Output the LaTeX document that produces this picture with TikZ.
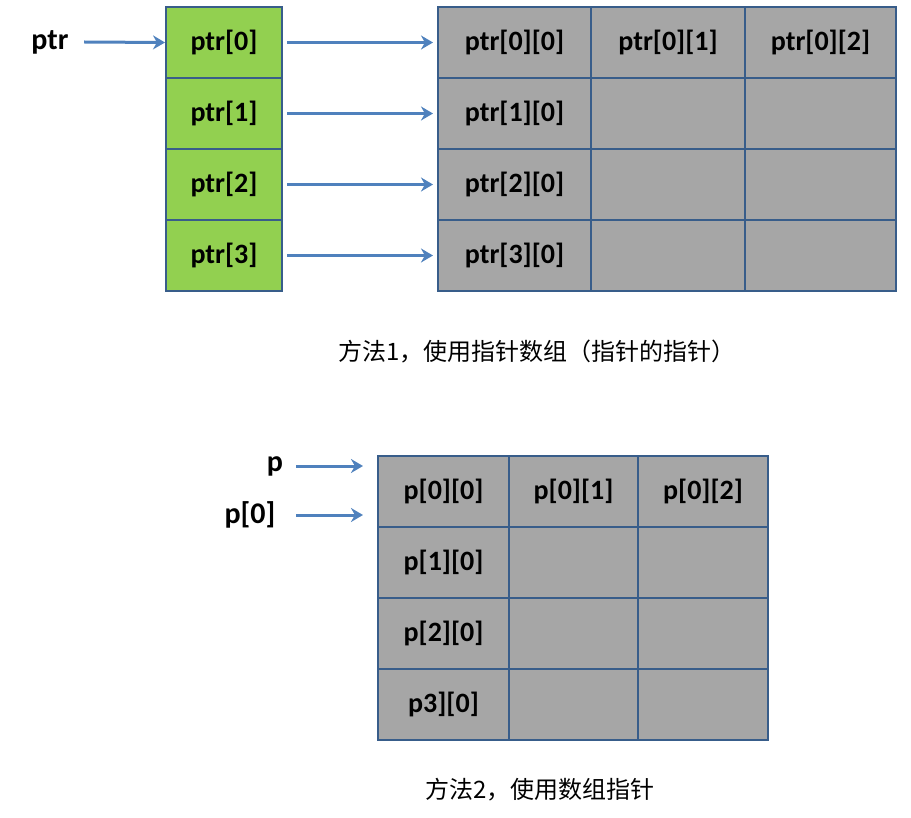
\documentclass[tikz,border=0pt]{standalone}
\usepackage{fontspec}
\setmainfont{Carlito}
\newfontfamily\cjk{Noto Sans CJK SC}
\usetikzlibrary{arrows.meta}
\definecolor{gr}{HTML}{92D050}
\definecolor{gy}{HTML}{A6A6A6}
\definecolor{bd}{HTML}{385D8A}
\definecolor{ar}{HTML}{4F81BD}
\begin{document}
\begin{tikzpicture}[x=1pt,y=-1pt,
 cell/.style={draw=bd,line width=2pt,minimum width=#1,minimum height=71pt,inner sep=0pt,anchor=north west,font=\fontsize{28}{30}\selectfont\bfseries},
 lab/.style={font=\fontsize{30}{32}\selectfont\bfseries},
 arr/.style={draw=ar,line width=3pt,-{Stealth[length=12pt,width=14pt]}},
 captxt/.style={font=\fontsize{24}{26}\selectfont\cjk}]
\useasboundingbox (0,0) rectangle (911,818);
% method 1
\foreach \i in {0,...,3}{
  \node[cell=116pt,fill=gr] (g\i) at (165,{6+71*\i}) {ptr[\i]};
}
\node[cell=153pt,fill=gy] (a00) at (437,6) {ptr[0][0]};
\node[cell=154pt,fill=gy] (a01) at (590,6) {ptr[0][1]};
\node[cell=151pt,fill=gy] (a02) at (744,6) {ptr[0][2]};
\foreach \i in {1,2,3}{
  \node[cell=153pt,fill=gy] (a\i0) at (437,{6+71*\i}) {ptr[\i][0]};
  \node[cell=154pt,fill=gy] (a\i1) at (590,{6+71*\i}) {};
  \node[cell=151pt,fill=gy] (a\i2) at (744,{6+71*\i}) {};
}
\node[lab] (ptr) at (50,42) {ptr};
\draw[arr] ([xshift=12pt]ptr.east) -- (g0.west);
\foreach \i in {0,...,3}{ \draw[arr] ([xshift=4pt]g\i.east) -- ([xshift=-4pt]a\i0.west); }
\node[captxt] (c1) at (537,352) {方法1，使用指针数组（指针的指针）};
% method 2
\node[cell=131pt,fill=gy] (b00) at (377,455) {p[0][0]};
\node[cell=129pt,fill=gy] (b01) at (508,455) {p[0][1]};
\node[cell=130pt,fill=gy] (b02) at (637,455) {p[0][2]};
\foreach \i/\t in {1/p[1][0],2/p[2][0],3/p3][0]}{
  \node[cell=131pt,fill=gy] (b\i0) at (377,{455+71*\i}) {\t};
  \node[cell=129pt,fill=gy] (b\i1) at (508,{455+71*\i}) {};
  \node[cell=130pt,fill=gy] (b\i2) at (637,{455+71*\i}) {};
}
\node[lab] (p) at (275,466) {p};
\node[lab] (p0) at (250,515) {p[0]};
\coordinate (pe) at (363,466);
\coordinate (p0e) at (363,515);
\coordinate (ps) at (296,466);
\coordinate (p0s) at (296,515);
\draw[arr] (ps) -- (pe);
\draw[arr] (p0s) -- (p0e);
\node[captxt] (c2) at (540,790) {方法2，使用数组指针};
\end{tikzpicture}
\end{document}
